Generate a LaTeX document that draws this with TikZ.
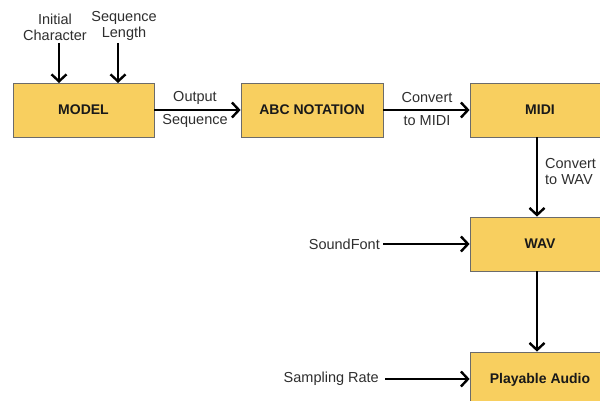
\documentclass[tikz,border=0pt]{standalone}
\usepackage{fontspec}
\setmainfont{Liberation Sans}
\usetikzlibrary{arrows.meta}
\definecolor{boxfill}{HTML}{F8CF5F}
\definecolor{boxline}{HTML}{6B6B6B}
\definecolor{lbl}{HTML}{2E2E2E}
\tikzset{
  blk/.style={draw=boxline, line width=0.8pt, fill=boxfill, minimum height=54pt, inner sep=0pt, font=\fontsize{14}{16}\selectfont\bfseries, text=black!90},
  conn/.style={line width=2.6pt, -{Straight Barb[length=7pt,width=15pt,line width=2.4pt]}},
  lab/.style={font=\fontsize{14.5}{16}\selectfont, text=lbl, inner sep=0pt, align=center}
}
\begin{document}
\begin{tikzpicture}[x=1pt,y=-1pt]
\useasboundingbox (0,0) rectangle (600,401);
\node[blk, minimum width=141pt] (model) at (83.5,110) {MODEL};
\node[blk, minimum width=142pt] (abc) at (312,110) {ABC NOTATION};
\node[blk, minimum width=140pt] (midi) at (540,110) {MIDI};
\node[blk, minimum width=140pt] (wav) at (540,244) {WAV};
\node[blk, minimum width=140pt, minimum height=56pt] (play) at (540,380) {Playable Audio};
\node[lab] (init) at (55,27) {Initial\\Character};
\node[lab] (seql) at (124,26) {Sequence\\Length};
\coordinate (initA) at (59,43);
\coordinate (seqA) at (118,43);
\draw[conn] (initA) -- (59,83);
\draw[conn] (seqA) -- (118,83);
\draw[conn] (model.east) -- (abc.west);
\node[lab] (o1) at (195,98) {Output};
\node[lab] (o2) at (195,121) {Sequence};
\draw[conn] (abc.east) -- (midi.west);
\node[lab] (c1) at (427,98) {Convert};
\node[lab] (c2) at (427,121) {to MIDI};
\draw[conn] (midi.south -| 537,0) -- (wav.north -| 537,0);
\node[lab, anchor=west, align=left] (c3) at (545,172) {Convert\\to WAV};
\draw[conn] (wav.south -| 537,0) -- (play.north -| 537,0);
\node[lab, anchor=east] (sf) at (380,244) {SoundFont};
\coordinate (sfA) at (383,244);
\draw[conn] (sfA) -- (wav.west);
\node[lab, anchor=east] (sr) at (379,379) {Sampling Rate};
\coordinate (srA) at (385,379);
\draw[conn] (srA) -- (play.west |- srA);
\end{tikzpicture}
\end{document}
